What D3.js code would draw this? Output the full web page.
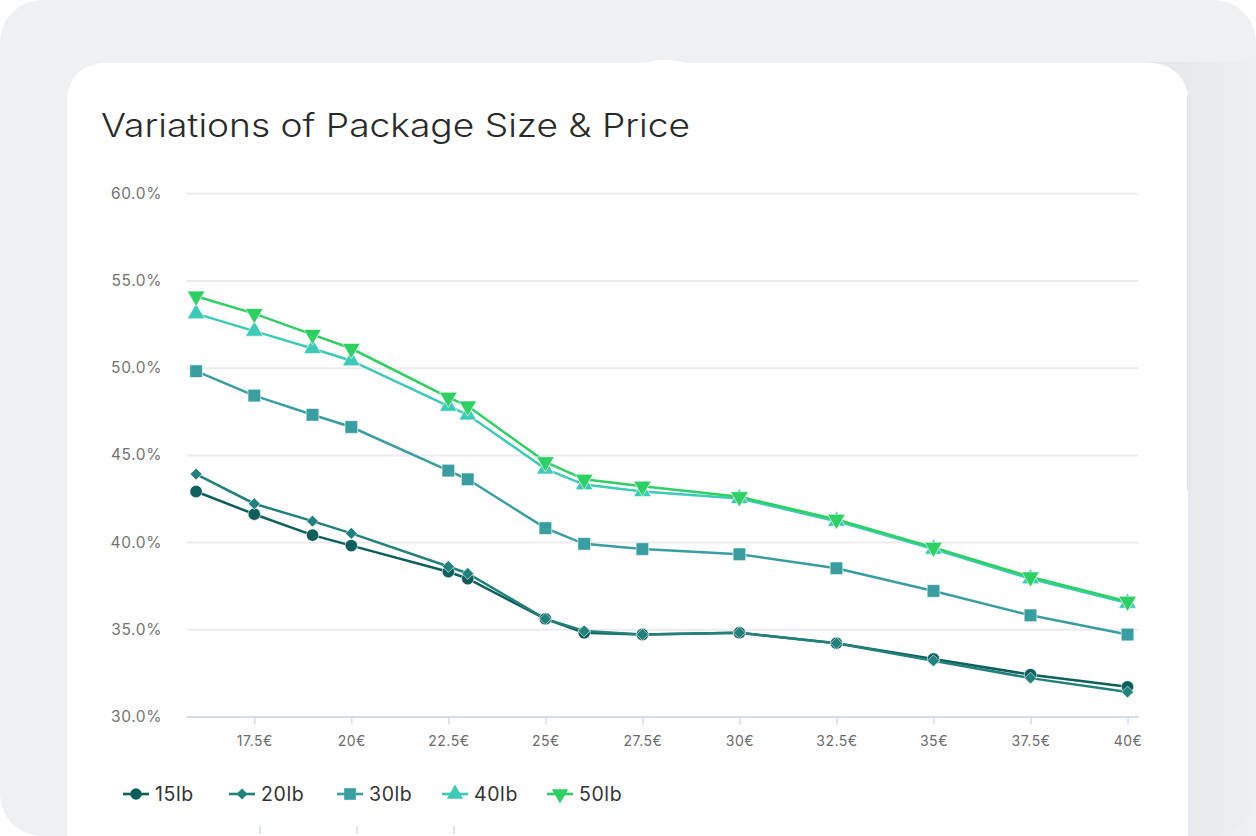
<!DOCTYPE html>
<html><head><meta charset="utf-8">
<script src="https://cdn.jsdelivr.net/npm/d3@7"></script>
<style>
body{margin:0;background:#fff}
svg{display:block}
text{font-family:Inter,"Noto Sans",sans-serif}
</style></head>
<body><svg id="c" width="1256" height="836"></svg>
<script>
const title = "Variations of Package Size & Price";
const prices = [16, 17.5, 19, 20, 22.5, 23, 25, 26, 27.5, 30, 32.5, 35, 37.5, 40];
const s15lb = [42.9, 41.6, 40.4, 39.8, 38.3, 37.9, 35.6, 34.8, 34.7, 34.8, 34.2, 33.3, 32.4, 31.7];
const s20lb = [43.9, 42.2, 41.2, 40.5, 38.6, 38.2, 35.6, 34.9, 34.7, 34.8, 34.2, 33.2, 32.2, 31.4];
const s30lb = [49.8, 48.4, 47.3, 46.6, 44.1, 43.6, 40.8, 39.9, 39.6, 39.3, 38.5, 37.2, 35.8, 34.7];
const s40lb = [53.1, 52.1, 51.1, 50.4, 47.8, 47.3, 44.2, 43.3, 42.9, 42.5, 41.2, 39.6, 37.9, 36.5];
const s50lb = [54.1, 53.1, 51.9, 51.1, 48.3, 47.8, 44.6, 43.6, 43.2, 42.6, 41.3, 39.7, 38.0, 36.6];
const seriesNames = ["15lb", "20lb", "30lb", "40lb", "50lb"];
const yTicks = [30, 35, 40, 45, 50, 55, 60];
const xTicks = [17.5, 20, 22.5, 25, 27.5, 30, 32.5, 35, 37.5, 40];

const colors = ["#0e5f5c", "#22817c", "#3a9ea1", "#3dcab6", "#2fd063"];
const symbols = [d3.symbolCircle, d3.symbolDiamond2, d3.symbolSquare, d3.symbolTriangle, d3.symbolTriangle];
const symSizes = [120, 90, 160, 135, 135];
const rotations = [0, 0, 0, 0, 180];
const allSeries = [s15lb, s20lb, s30lb, s40lb, s50lb];

const svg = d3.select("#c");

// background panels
const defs = svg.append("defs");
const g1 = defs.append("linearGradient").attr("id", "sh").attr("x1", 0).attr("x2", 1);
g1.append("stop").attr("offset", 0).attr("stop-color", "#e4e5e8");
g1.append("stop").attr("offset", 1).attr("stop-color", "#eeeff1");
svg.append("rect").attr("x", 0).attr("y", 0).attr("width", 1256).attr("height", 836)
  .attr("rx", 42).attr("fill", "#eff0f2");
svg.append("rect").attr("x", 1150).attr("y", 62).attr("width", 106).attr("height", 774)
  .attr("fill", "url(#sh)").attr("opacity", 0.9);
svg.append("rect").attr("x", 67).attr("y", 63).attr("width", 1121).attr("height", 900)
  .attr("rx", 36).attr("fill", "#ffffff");
svg.append("path").attr("d", "M640,64 Q665,56 690,64 Z").attr("fill", "#ffffff");
svg.append("line").attr("x1", 1187.5).attr("x2", 1187.5).attr("y1", 95).attr("y2", 490)
  .attr("stroke", "#e2e3e6").attr("stroke-width", 1);

// title
svg.append("text").attr("x", 101).attr("y", 137).attr("font-size", 32).attr("font-weight", 300)
  .attr("fill", "#2a2a2a").attr("textLength", 589).attr("lengthAdjust", "spacingAndGlyphs")
  .text(title);

const x = d3.scaleLinear().domain([15.766, 40.27]).range([187, 1138]);
const y = d3.scaleLinear().domain([30, 60]).range([716.5, 193.3]);

// gridlines
const gy = svg.append("g").attr("transform", "translate(187,0)")
  .call(d3.axisLeft(y).tickValues(yTicks).tickSize(-951).tickFormat(""));
gy.select(".domain").remove();
gy.selectAll(".tick line").attr("stroke", "#ececee").attr("stroke-width", 2);

svg.append("g").selectAll("text").data(yTicks).join("text")
  .attr("x", 162).attr("y", d => y(d) + 5.5).attr("text-anchor", "end")
  .attr("font-size", 15.5).attr("letter-spacing", 0.6).attr("fill", "#737373")
  .text(d => d.toFixed(1) + "%");

// x axis
const gx = svg.append("g").attr("transform", "translate(0,716.5)")
  .call(d3.axisBottom(x).tickValues(xTicks).tickSize(8).tickSizeOuter(0)
    .tickFormat(d => d + "€"));
gx.select(".domain").attr("stroke", "#d3dbed").attr("stroke-width", 2);
gx.selectAll(".tick line").attr("stroke", "#d3dbed").attr("stroke-width", 1.5);
gx.selectAll(".tick text").attr("font-size", 14).attr("letter-spacing", 0.5)
  .attr("fill", "#6b6b6b").attr("dy", "1.3em")
  .attr("font-family", "Inter, sans-serif");

// lines and markers
const line = d3.line().x((d, i) => x(prices[i])).y(d => y(d));
allSeries.forEach((s, k) => {
  svg.append("path").datum(s).attr("d", line).attr("fill", "none")
    .attr("stroke", colors[k]).attr("stroke-width", 2.5);
});
allSeries.forEach((s, k) => {
  const sym = d3.symbol().type(symbols[k]).size(symSizes[k]);
  svg.append("g").selectAll("path").data(s).join("path")
    .attr("d", sym)
    .attr("transform", (d, i) => `translate(${x(prices[i])},${y(d)}) rotate(${rotations[k]})`)
    .attr("fill", colors[k]).attr("stroke", "#ffffff").attr("stroke-width", 0.6);
});

// legend
const legX = [123, 229, 337, 442, 547];
const lg = svg.append("g");
seriesNames.forEach((n, k) => {
  const g = lg.append("g").attr("transform", `translate(${legX[k]},794)`);
  g.append("line").attr("x1", 0).attr("x2", 26).attr("stroke", colors[k]).attr("stroke-width", 2.6);
  g.append("path").attr("d", d3.symbol().type(symbols[k]).size(symSizes[k] * 0.85))
    .attr("transform", `translate(13,0) rotate(${rotations[k]})`).attr("fill", colors[k]);
  g.append("text").attr("x", 32).attr("y", 7).attr("font-size", 19.5).attr("letter-spacing", 0.6)
    .attr("fill", "#333").text(n);
});

// ghost ticks of chart below
svg.append("g").selectAll("line").data([260, 357, 454]).join("line")
  .attr("x1", d => d).attr("x2", d => d).attr("y1", 826).attr("y2", 834)
  .attr("stroke", "#d3dbed").attr("stroke-width", 1.5);
</script>
</body></html>
